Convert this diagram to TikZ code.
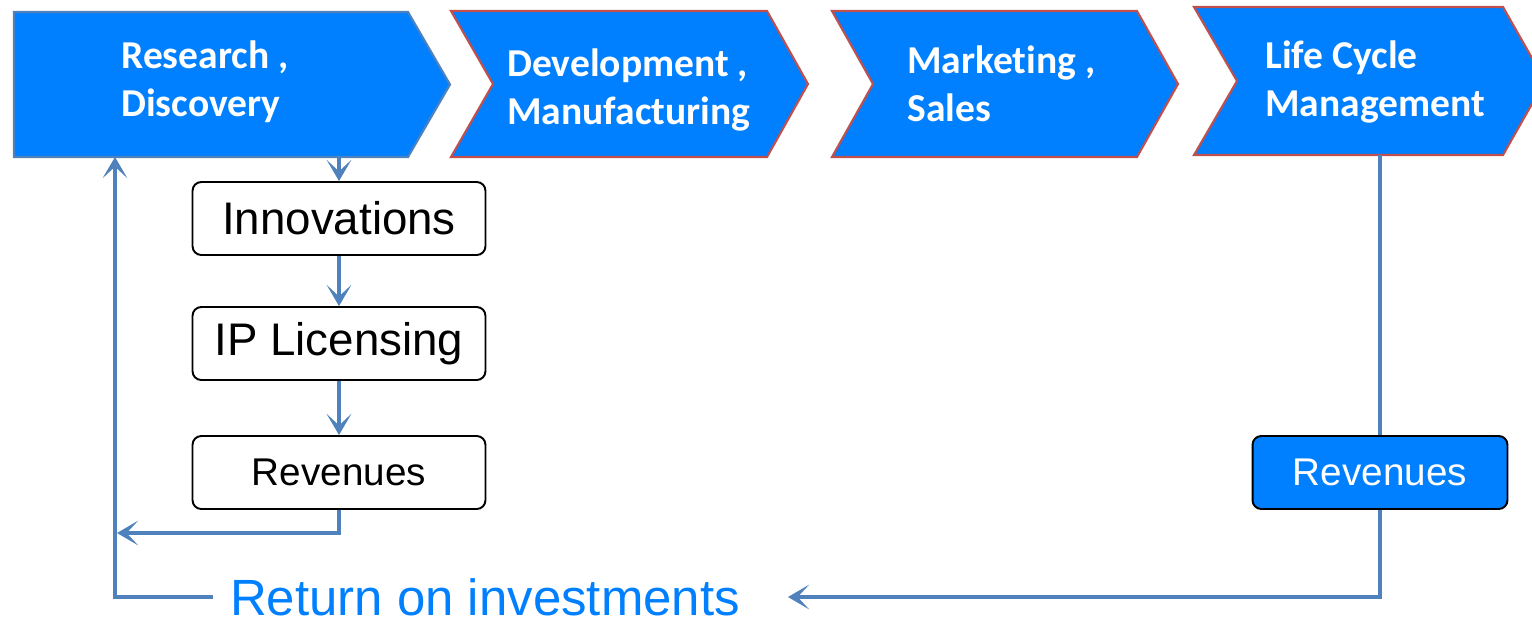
\documentclass[tikz,border=0pt]{standalone}
\usepackage{fontspec}
\setmainfont{Liberation Sans}
\newfontfamily\stagefont{Carlito}[Ligatures=CommonOff]
\usetikzlibrary{arrows.meta}

\definecolor{stageblue}{HTML}{0080FF}
\definecolor{linkblue}{HTML}{4F81BD}
\definecolor{stagered}{HTML}{C0504D}

\begin{document}
\begin{tikzpicture}[x=0.02cm, y=-0.02cm,
    stage/.style={fill=stageblue, draw=stagered, line width=1.2pt},
    stagetext/.style={anchor=west, align=left, text=white, inner sep=0pt,
        font=\stagefont\bfseries\fontsize{22.5}{27.3}\selectfont},
    box/.style={draw=black, line width=1.1pt, rounded corners=5pt, inner sep=0pt,
        minimum width=5.86cm, minimum height=1.46cm},
    link/.style={draw=linkblue, line width=2.7pt,
        -{Stealth[length=12pt, width=14pt, inset=6.5pt]}},
    linkline/.style={draw=linkblue, line width=2.7pt}
]
\useasboundingbox (0,0) rectangle (1532,620);

% value chain stages
\filldraw[stage, draw=linkblue] (14,12) -- (408,12) -- (450,84.5) -- (408,157) -- (14,157) -- cycle;
\filldraw[stage] (451,11) -- (767,11) -- (808,84) -- (767,157) -- (451,157) -- (493,84) -- cycle;
\filldraw[stage] (832,11) -- (1137,11) -- (1178,84) -- (1137,157) -- (832,157) -- (873,84) -- cycle;
\filldraw[stage] (1194,7) -- (1503,7) -- (1545,81) -- (1503,155) -- (1194,155) -- (1237,81) -- cycle;

\node[stagetext] (research) at (121,82) {Research ,\\Discovery};
\node[stagetext] (develop) at (507,90) {Development ,\\Manufacturing};
\node[stagetext] (market) at (907,84) {Marketing ,\\Sales};
\node[stagetext] (lifecycle) at (1265,82) {Life Cycle\\Management};

\coordinate (rdfoot) at (339,157);
\coordinate (lcmfoot) at (1380,155);

% licensing branch
\node[box, font=\fontsize{26}{30}\selectfont] (innov) at (339,218.5) {Innovations};
\node[box, font=\fontsize{26}{30}\selectfont] (lic) at (339,343.5) {IP Licensing};
\node[box, font=\fontsize{22}{26}\selectfont] (rev) at (339,472.5) {Revenues};

% product revenues
\node[box, fill=stageblue, text=white, minimum width=5.1cm,
    font=\fontsize{22}{26}\selectfont] (revlcm) at (1380,472.5) {Revenues};

\node[text=stageblue, inner sep=0pt, font=\fontsize{29}{34}\selectfont] (roi) at (485,597) {Return on investments};

\coordinate (revin) at (117,533);
\coordinate (roiout) at (213,597);
\coordinate (rdback) at (115,157);
\coordinate (roiin) at (788,597);

\draw[link] (rdfoot) -- (innov);
\draw[link] (innov) -- (lic);
\draw[link] (lic) -- (rev);
\draw[link] (rev.south) |- (revin);
\draw[link] (roiout) -| (rdback);
\draw[linkline] (lcmfoot) -- (revlcm.north);
\draw[link] (revlcm.south) |- (roiin);
\end{tikzpicture}
\end{document}
